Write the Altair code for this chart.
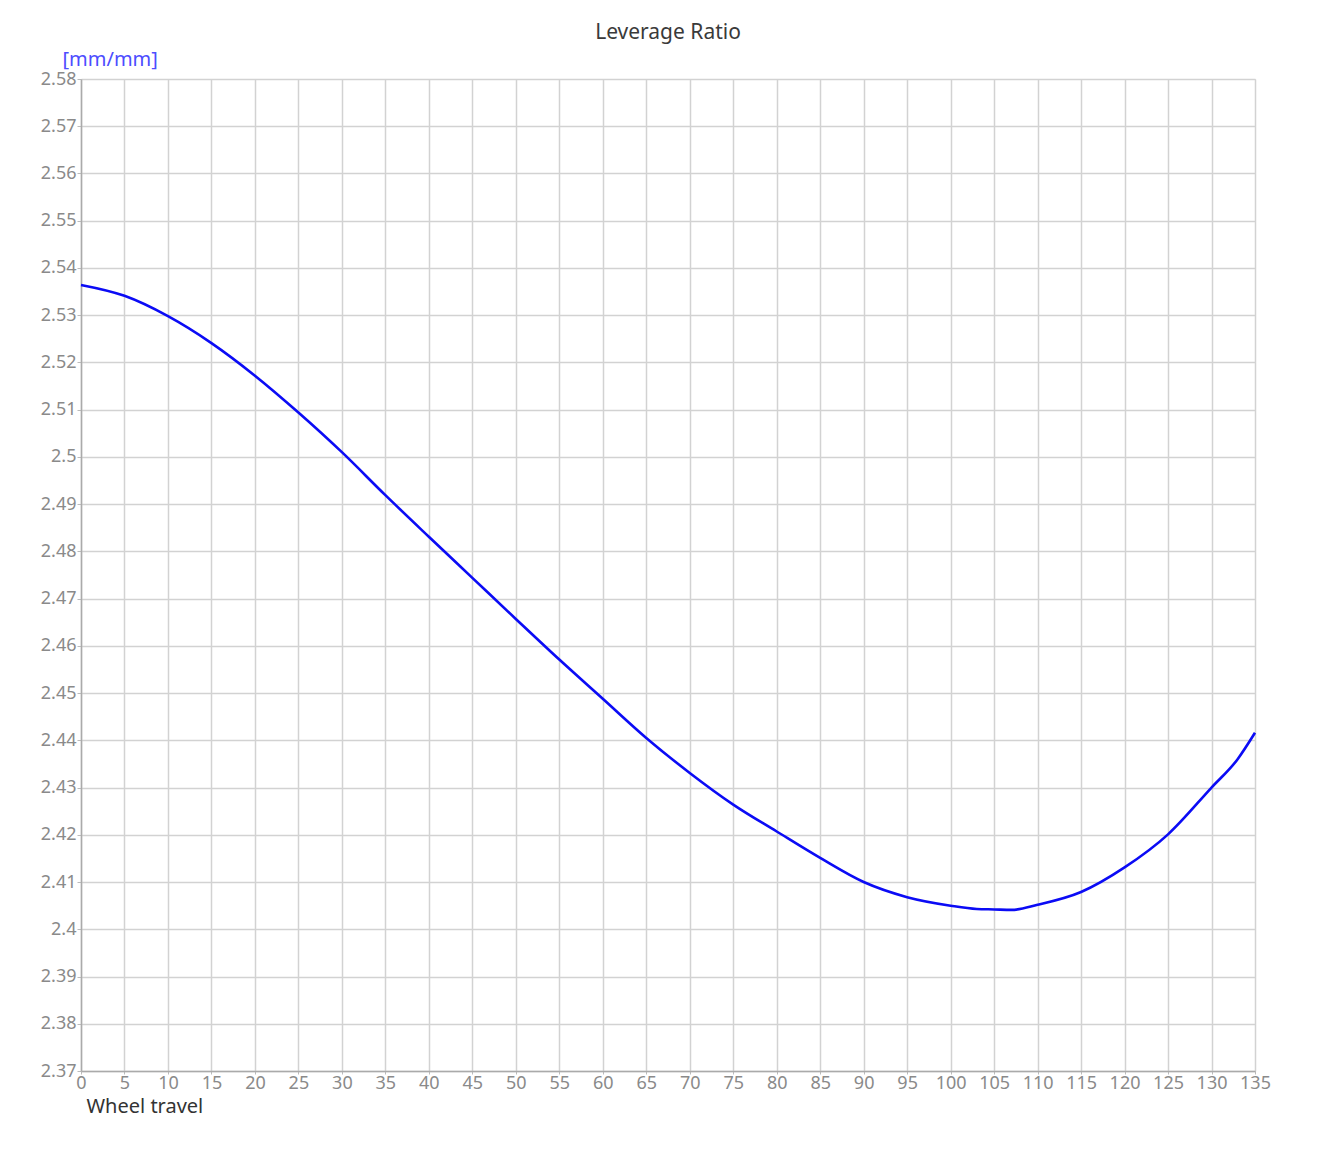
import altair as alt
import pandas as pd

# Wheel travel [mm] and leverage ratio [mm/mm]
travel = [0, 5, 10, 15, 20, 25, 30, 35, 40, 45, 50, 55, 60, 65, 70, 75, 80, 85,
          90, 95, 100, 103, 105, 107, 110, 115, 120, 125, 130, 133, 135]
leverage = [2.5364, 2.5341, 2.5298, 2.5241, 2.5172, 2.5094, 2.5010, 2.4919,
            2.4831, 2.4744, 2.4657, 2.4571, 2.4488, 2.4405, 2.4331, 2.4264,
            2.4207, 2.4151, 2.4100, 2.4068, 2.4050, 2.4043, 2.4042, 2.4041,
            2.4052, 2.4079, 2.4131, 2.4201, 2.4300, 2.4360, 2.4416]

x_ticks = list(range(0, 140, 5))
y_ticks = [round(2.37 + i * 0.01, 2) for i in range(22)]

df = pd.DataFrame({"travel": travel, "leverage": leverage})

FONT = "Noto Sans"

chart = alt.Chart(df).mark_line(color="#0b0bf5", strokeWidth=2.6, interpolate="monotone").encode(
    x=alt.X("travel:Q",
            scale=alt.Scale(domain=[0, 135], nice=False, zero=False),
            axis=alt.Axis(values=x_ticks, title="Wheel travel", titleAnchor="start",
                          titleAlign="left", titleBaseline="alphabetic",
                          titleX=5, titleY=41, titleFont=FONT, titleFontSize=20,
                          titleFontWeight="normal", titleColor="#333333",
                          labelFont=FONT, labelFontSize=18, labelColor="#8a8a8a",
                          labelPadding=0, tickSize=3, tickColor="#bbbbbb",
                          domainColor="#aaaaaa", domainWidth=1.5,
                          gridColor="#d2d2d2", gridWidth=1.5,
                          labelOverlap=False, labelFlush=False)),
    y=alt.Y("leverage:Q",
            scale=alt.Scale(domain=[2.37, 2.58], nice=False, zero=False),
            axis=alt.Axis(values=y_ticks, format=".2~f", title="[mm/mm]",
                          titleAngle=0, titleAlign="left", titleBaseline="alphabetic",
                          titleX=-19, titleY=-14, titleFont=FONT, titleFontSize=20,
                          titleFontWeight="normal", titleColor="#4d4dff",
                          labelFont=FONT, labelFontSize=18, labelColor="#8a8a8a",
                          labelPadding=1, tickSize=4, tickColor="#bbbbbb",
                          domainColor="#aaaaaa", domainWidth=1.5,
                          gridColor="#d2d2d2", gridWidth=1.5,
                          labelOverlap=False, labelFlush=False)),
).properties(
    width=1174,
    height=992,
    title=alt.TitleParams("Leverage Ratio", font=FONT, fontSize=21, fontWeight="normal",
                          color="#3a3a3a", anchor="middle", offset=6),
    padding={"left": 73, "top": 71, "right": 60, "bottom": 60},
    autosize=alt.AutoSizeParams(type="none"),
).configure_view(stroke=None).configure(background="white")

chart.save("out.html", embed_options={"renderer": "svg", "actions": False})
